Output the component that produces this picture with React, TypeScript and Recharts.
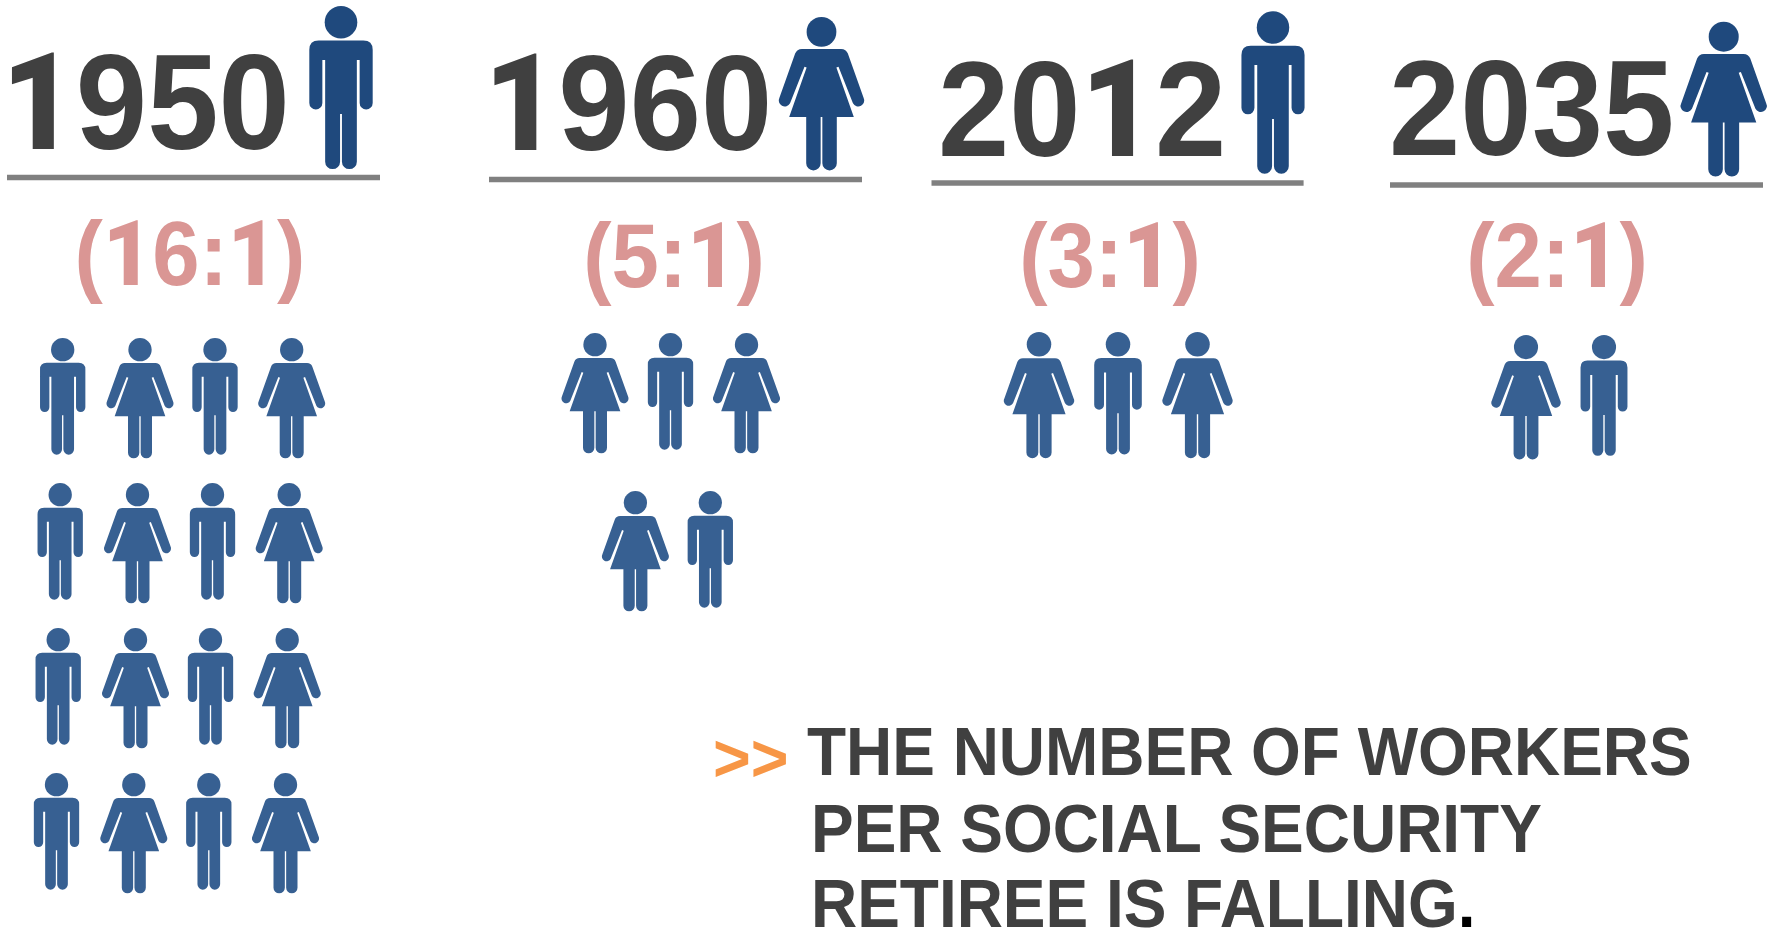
import React from "react";
import { ScatterChart, Scatter, XAxis, YAxis, ReferenceLine } from "recharts";

// Workers per Social Security retiree, by year
const years = ["1950", "1960", "2012", "2035"];
const workersPerRetiree = [16, 5, 3, 2];
const retirees = ["man", "woman", "man", "woman"];
// Worker figures alternate within a row; each panel starts rows on its own figure
const firstWorker = ["man", "woman", "woman", "woman"];
const rowLengths = [[4, 4, 4, 4], [3, 2], [3], [2]];
const messageLines = ["THE NUMBER OF WORKERS", "PER SOCIAL SECURITY", "RETIREE IS FALLING"];

const WIDTH = 1779;
const HEIGHT = 933;
const TEXT_FONT = "'Liberation Sans', Arial, sans-serif";
// The "1" is set in a footless face so it stands as a plain stem and flag
const ONE_FONT = "Roboto, 'Liberation Sans', sans-serif";
const INK = "#404040";

// Placement of each panel on the page
const panelLayout = [
  {
    yearX: 1.5, yearY: 149, rule: [7, 380], ruleY: 177.5, ratioX: 190, ratioY: 285,
    retireeX: 341, retireeY: 6, retireeScale: 0.466,
    workerScale: 1 / 3, workerRows: [
      { top: 338, xs: [62.7, 140, 215, 291.7] },
      { top: 483, xs: [60.2, 137.5, 212.5, 289.2] },
      { top: 628, xs: [58.2, 135.5, 210.5, 287.2] },
      { top: 773, xs: [56.5, 133.8, 208.8, 285.5] },
    ],
  },
  {
    yearX: 484, yearY: 150, rule: [489, 862], ruleY: 179.5, ratioX: 674, ratioY: 287,
    retireeX: 821.5, retireeY: 17, retireeScale: 0.425,
    workerScale: 1 / 3, workerRows: [
      { top: 333, xs: [595, 670.5, 746.5] },
      { top: 491, xs: [635.4, 710.3] },
    ],
  },
  {
    yearX: 938, yearY: 156, rule: [931.5, 1303.6], ruleY: 183, ratioX: 1110, ratioY: 287,
    retireeX: 1273, retireeY: 11.3, retireeScale: 0.464,
    workerScale: 0.35, workerRows: [{ top: 332, xs: [1039, 1118, 1197.5] }],
  },
  {
    yearX: 1389, yearY: 155, rule: [1390, 1763], ruleY: 185, ratioX: 1557, ratioY: 287,
    retireeX: 1723.7, retireeY: 21.7, retireeScale: 0.429,
    workerScale: 0.345, workerRows: [{ top: 335, xs: [1526, 1604] }],
  },
];

const MAN_BODY =
  "M-48 74L48 74Q68 74 68 94L68 208A14 14 0 0 1 40 208L40 116L34 116L34 334A16 16 0 0 1 2 334L2 232L-2 232L-2 334A16 16 0 0 1 -34 334L-34 116L-40 116L-40 208A14 14 0 0 1 -68 208L-68 94Q-68 74 -48 74Z";
const WOMAN_BODY =
  "M-46 75L46 75Q58 75 62 86L99 190A13 13 0 0 1 74 203L40 117L35 119L76 235L36 235L36 344A17 17 0 0 1 2 344L2 235L-2 235L-2 344A17 17 0 0 1 -36 344L-36 235L-76 235L-35 119L-40 117L-74 203A13 13 0 0 1 -99 190L-62 86Q-58 75 -46 75Z";

function Person({ cx, cy, payload }: any) {
  const { figure, scale, fill } = payload;
  return (
    <g transform={`translate(${cx} ${cy}) scale(${scale})`} fill={fill}>
      <circle cx={0} cy={35} r={35} />
      <path d={figure === "man" ? MAN_BODY : WOMAN_BODY} />
    </g>
  );
}

// Bold caption, condensed horizontally by squeeze
function Caption({ cx, cy, payload }: any) {
  const { text, size, fill, anchor, squeeze, tail, swapOnes } = payload;
  const parts: string[] = swapOnes ? text.split(/(1)/).filter(Boolean) : [text];
  return (
    <text
      transform={`translate(${cx} ${cy}) scale(${squeeze} 1)`}
      fontFamily={TEXT_FONT}
      fontWeight="bold"
      fontSize={size}
      fill={fill}
      textAnchor={anchor}
    >
      {parts.map((part, k) =>
        part === "1" && swapOnes ? (
          <tspan key={k} fontFamily={ONE_FONT} fontWeight={900}>
            1
          </tspan>
        ) : (
          <tspan key={k}>{part}</tspan>
        )
      )}
      {tail ? <tspan fill="#000000">{tail}</tspan> : null}
    </text>
  );
}

const retireePoints = years.map((_, i) => ({
  x: panelLayout[i].retireeX,
  y: panelLayout[i].retireeY,
  figure: retirees[i],
  scale: panelLayout[i].retireeScale,
  fill: "#1f497d",
}));

// One figure per worker, laid out row by row and alternating man and woman
const workerPoints = years.flatMap((_, i) => {
  const other = firstWorker[i] === "man" ? "woman" : "man";
  return rowLengths[i].flatMap((count, r) =>
    panelLayout[i].workerRows[r].xs.slice(0, count).map((x, c) => ({
      x,
      y: panelLayout[i].workerRows[r].top,
      figure: c % 2 === 0 ? firstWorker[i] : other,
      scale: panelLayout[i].workerScale,
      fill: "#376092",
    }))
  );
});

const yearLabels = years.map((text, i) => ({
  x: panelLayout[i].yearX,
  y: panelLayout[i].yearY,
  text,
  size: 135,
  squeeze: 0.95,
  swapOnes: true,
  fill: INK,
  anchor: "start",
}));

const ratioLabels = workersPerRetiree.map((r, i) => ({
  x: panelLayout[i].ratioX,
  y: panelLayout[i].ratioY,
  text: `(${r}:1)`,
  size: 90,
  squeeze: 0.945,
  swapOnes: true,
  fill: "#da9694",
  anchor: "middle",
}));

const messageLabels = [
  { x: 713, y: 781, text: ">>", size: 66, squeeze: 0.98, fill: "#f79646", anchor: "start" },
  { x: 807, y: 775, text: messageLines[0], size: 69, squeeze: 0.927, fill: INK, anchor: "start" },
  { x: 811, y: 852, text: messageLines[1], size: 69, squeeze: 0.927, fill: INK, anchor: "start" },
  { x: 811, y: 927, text: messageLines[2], tail: ".", size: 69, squeeze: 0.927, fill: INK, anchor: "start" },
];

const captions = [...yearLabels, ...ratioLabels, ...messageLabels];

export default function App() {
  return (
    <div style={{ position: "absolute", left: 0, top: 0, width: WIDTH, height: HEIGHT, background: "#fff" }}>
      <ScatterChart width={WIDTH} height={HEIGHT} margin={{ top: 0, right: 0, bottom: 0, left: 0 }}>
        <XAxis type="number" dataKey="x" domain={[0, WIDTH]} hide />
        <YAxis type="number" dataKey="y" domain={[0, HEIGHT]} reversed hide />
        {panelLayout.map((p, i) => (
          <ReferenceLine
            key={years[i]}
            segment={[
              { x: p.rule[0], y: p.ruleY },
              { x: p.rule[1], y: p.ruleY },
            ]}
            stroke="#808080"
            strokeWidth={5.3}
          />
        ))}
        <Scatter data={retireePoints} shape={Person} isAnimationActive={false} />
        <Scatter data={workerPoints} shape={Person} isAnimationActive={false} />
        <Scatter data={captions} shape={Caption} isAnimationActive={false} />
      </ScatterChart>
    </div>
  );
}
